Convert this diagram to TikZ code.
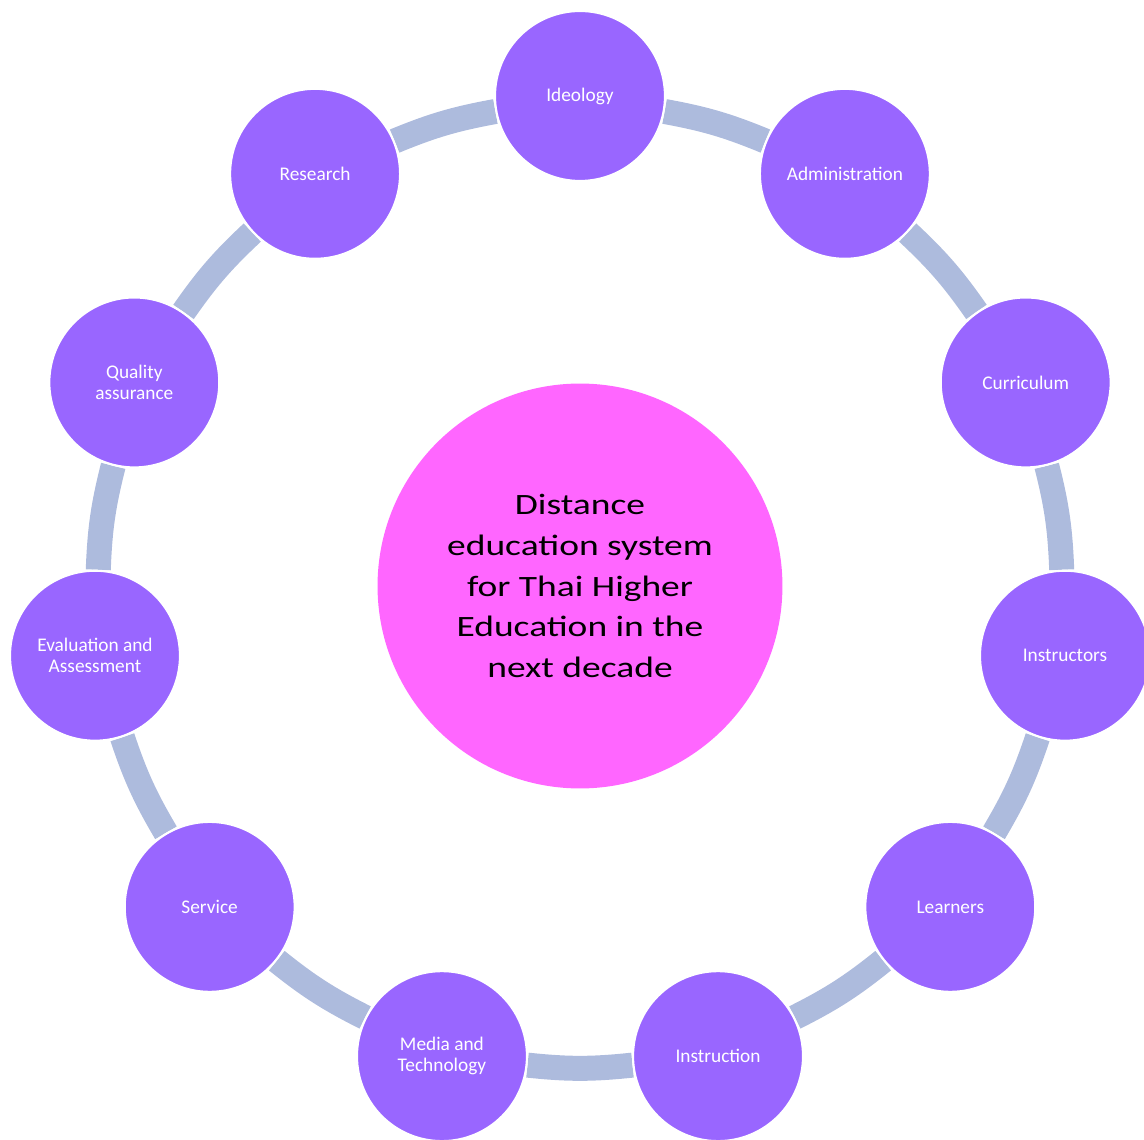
\documentclass[tikz,border=0pt]{standalone}
\usepackage{fontspec}
\setmainfont{Carlito}
\newfontfamily\corefont[FakeStretch=1.27]{Carlito}
\usetikzlibrary{backgrounds}
\definecolor{CPurple}{HTML}{9966FF}
\definecolor{CPink}{HTML}{FF66FF}
\definecolor{CRing}{HTML}{ADBBDD}

\tikzset{
    topic/.style={circle, fill=CPurple, draw=white, line width=1.2pt, minimum size=3.4cm, inner sep=0pt,
        text=white, align=center, font=\fontsize{11}{12}\selectfont},
    core/.style={circle, fill=CPink, minimum size=8.1cm, inner sep=0pt, align=center,
        font=\corefont\fontsize{16.8}{23.3}\selectfont},
    link/.style={CRing, line width=0.5cm}
}

\begin{document}
\begin{tikzpicture}[x=0.02cm, y=0.02cm]
    % Page frame, centre of the ring at the origin
    \useasboundingbox (-580,-554) rectangle (564,586);

    % --- Centre ---
    \node[core] (Core) at (0,0) {Distance\\education system\\for Thai Higher\\Education in the\\next decade};

    % --- Eleven topics, clockwise from the top ---
    \foreach \name/\txt [count=\i from 0] in {Ideology/Ideology, Admin/Administration, Curriculum/Curriculum,
        Instructors/Instructors, Learners/Learners, Instruction/Instruction, Media/{Media and\\Technology},
        Service/Service, Evaluation/{Evaluation and\\Assessment}, Quality/{Quality\\assurance}, Research/Research} {
        \node[topic] (\name) at ({90-\i*360/11}:490) {\txt};
    }

    % --- Ring between neighbouring topics ---
    \begin{scope}[on background layer]
        \foreach \a/\b in {Ideology/Admin, Admin/Curriculum, Curriculum/Instructors, Instructors/Learners,
            Learners/Instruction, Instruction/Media, Media/Service, Service/Evaluation,
            Evaluation/Quality, Quality/Research, Research/Ideology} {
            \draw[link] (\a) to[bend left=6] (\b);
        }
    \end{scope}

\end{tikzpicture}
\end{document}
